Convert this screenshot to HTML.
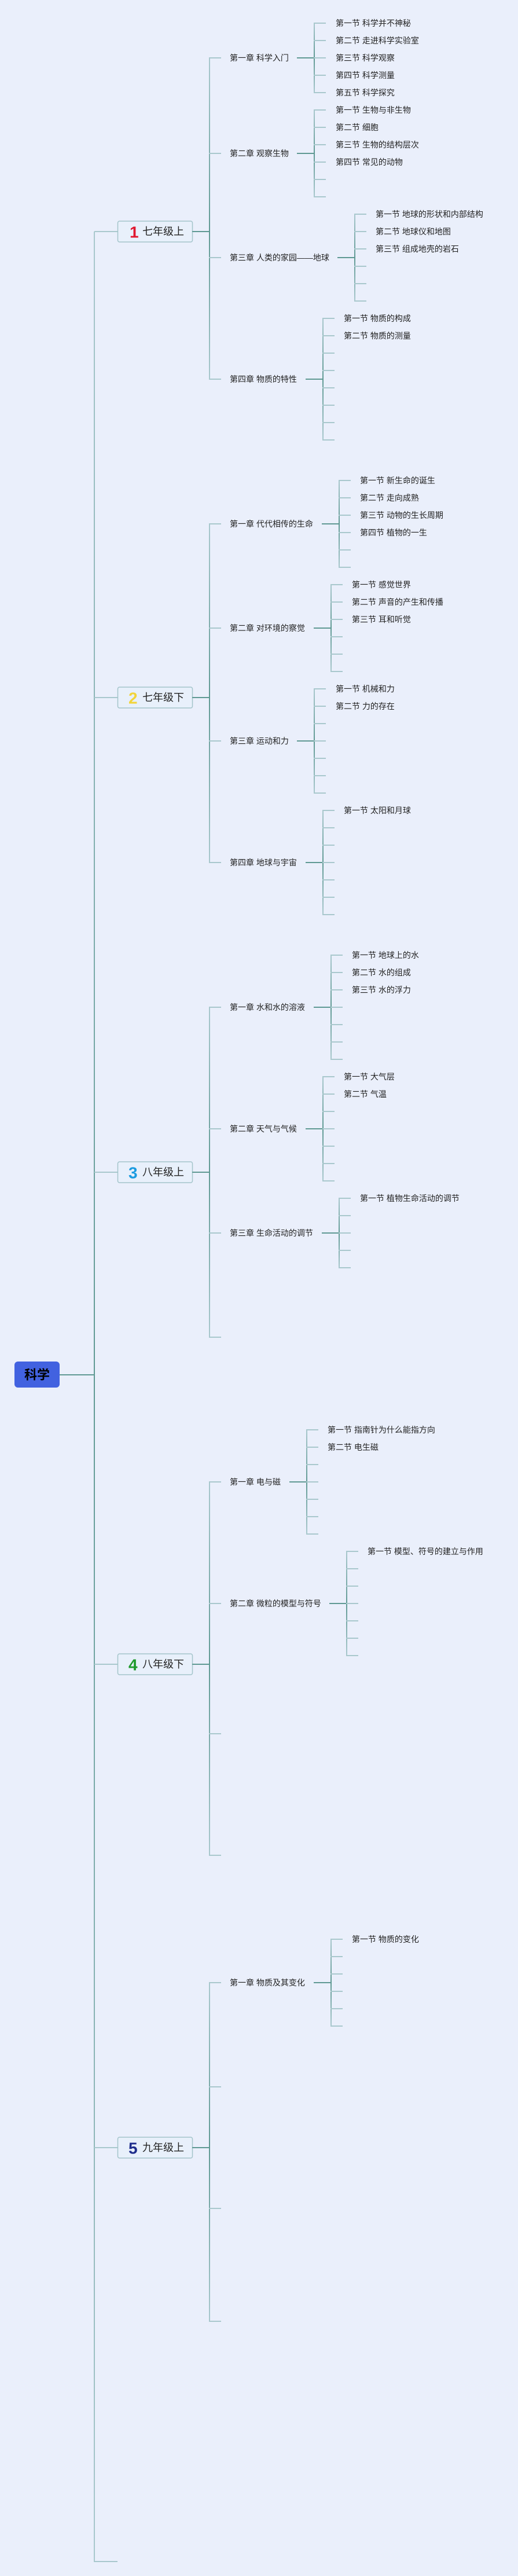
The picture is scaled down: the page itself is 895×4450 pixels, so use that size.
<!DOCTYPE html>
<html>
<head>
<meta charset="utf-8">
<style>
html,body{margin:0;padding:0;background:#eaeffb;}
svg{display:block;}
text{font-family:"Liberation Sans","Noto Sans CJK SC",sans-serif;}
.c{font-size:14px;fill:#222;}
.g{font-size:18px;fill:#222;}
.n{font-size:28px;font-weight:bold;}
</style>
</head>
<body>
<svg width="895" height="4450" viewBox="0 0 895 4450" xmlns="http://www.w3.org/2000/svg">
<defs>
<linearGradient id="gd" x1="0" y1="0" x2="0" y2="1"><stop offset="0" stop-color="#5f9993"/><stop offset="1" stop-color="#a9c8cd"/></linearGradient>
<linearGradient id="gu" x1="0" y1="0" x2="0" y2="1"><stop offset="0" stop-color="#a9c8cd"/><stop offset="1" stop-color="#5f9993"/></linearGradient>
</defs>
<rect x="0" y="0" width="895" height="4450" fill="#eaeffb"/>

<!-- Root -->
<rect x="25" y="2352" width="78" height="45" rx="6" fill="#4262e0"/>
<text x="64" y="2375" text-anchor="middle" dominant-baseline="central" style="font-size:22px;font-weight:bold;fill:#000;">科学</text>
<rect x="103" y="2374" width="60" height="2" fill="#5f9993"/>

<!-- Main vertical line -->
<rect x="162" y="400" width="2" height="1975" fill="url(#gu)"/>
<rect x="162" y="2375" width="2" height="2051" fill="url(#gd)"/>
<path d="M163 400h40M163 1205h40M163 2025h40M163 2875h40M163 3710h40M162 4425h41" stroke="#a9c8cd" stroke-width="2" fill="none"/>

<!-- Grade boxes -->
<g fill="#e8f0fb" stroke="#a3c4ca" stroke-width="1.5">
<rect x="203.5" y="382" width="129" height="36" rx="3"/>
<rect x="203.5" y="1187" width="129" height="36" rx="3"/>
<rect x="203.5" y="2007" width="129" height="36" rx="3"/>
<rect x="203.5" y="2857" width="129" height="36" rx="3"/>
<rect x="203.5" y="3692" width="129" height="36" rx="3"/>
</g>
<text class="n" x="224" y="401" dominant-baseline="central" fill="#e0162e">1</text>
<text class="g" x="246" y="400" dominant-baseline="central">七年级上</text>
<text class="n" x="222" y="1206" dominant-baseline="central" fill="#f2d43a">2</text>
<text class="g" x="246" y="1205" dominant-baseline="central">七年级下</text>
<text class="n" x="222" y="2026" dominant-baseline="central" fill="#1b9be0">3</text>
<text class="g" x="246" y="2025" dominant-baseline="central">八年级上</text>
<text class="n" x="222" y="2876" dominant-baseline="central" fill="#1f9a2c">4</text>
<text class="g" x="246" y="2875" dominant-baseline="central">八年级下</text>
<text class="n" x="222" y="3711" dominant-baseline="central" fill="#1e2d8c">5</text>
<text class="g" x="246" y="3710" dominant-baseline="central">九年级上</text>

<!-- Grade -> chapter connectors (dark) -->
<path d="M332 400h30M332 1205h30M332 2025h30M332 2875h30M332 3710h30" stroke="#5f9993" stroke-width="2" fill="none"/>

<!-- Chapter vertical lines -->
<rect x="361" y="100" width="2" height="300" fill="url(#gu)"/>
<rect x="361" y="400" width="2" height="255" fill="url(#gd)"/>
<rect x="361" y="905" width="2" height="300" fill="url(#gu)"/>
<rect x="361" y="1205" width="2" height="285" fill="url(#gd)"/>
<rect x="361" y="1740" width="2" height="285" fill="url(#gu)"/>
<rect x="361" y="2025" width="2" height="285" fill="url(#gd)"/>
<rect x="361" y="2560" width="2" height="315" fill="url(#gu)"/>
<rect x="361" y="2875" width="2" height="330" fill="url(#gd)"/>
<rect x="361" y="3425" width="2" height="285" fill="url(#gu)"/>
<rect x="361" y="3710" width="2" height="300" fill="url(#gd)"/>

<!-- Chapter stubs (light) -->
<path d="M361 100h21M361 265h21M361 445h21M361 655h21
M361 905h21M361 1085h21M361 1280h21M361 1490h21
M361 1740h21M361 1950h21M361 2130h21M361 2310h21
M361 2560h21M361 2770h21M361 2995h21M361 3205h21
M361 3425h21M361 3605h21M361 3815h21M361 4010h21" stroke="#a9c8cd" stroke-width="2" fill="none"/>

<!-- Chapter labels -->
<g class="c" dominant-baseline="central">
<text class="c" x="397" y="100" dominant-baseline="central">第一章 科学入门</text>
<text class="c" x="397" y="265" dominant-baseline="central">第二章 观察生物</text>
<text class="c" x="397" y="445" dominant-baseline="central">第三章 人类的家园——地球</text>
<text class="c" x="397" y="655" dominant-baseline="central">第四章 物质的特性</text>
<text class="c" x="397" y="905" dominant-baseline="central">第一章 代代相传的生命</text>
<text class="c" x="397" y="1085" dominant-baseline="central">第二章 对环境的察觉</text>
<text class="c" x="397" y="1280" dominant-baseline="central">第三章 运动和力</text>
<text class="c" x="397" y="1490" dominant-baseline="central">第四章 地球与宇宙</text>
<text class="c" x="397" y="1740" dominant-baseline="central">第一章 水和水的溶液</text>
<text class="c" x="397" y="1950" dominant-baseline="central">第二章 天气与气候</text>
<text class="c" x="397" y="2130" dominant-baseline="central">第三章 生命活动的调节</text>
<text class="c" x="397" y="2560" dominant-baseline="central">第一章 电与磁</text>
<text class="c" x="397" y="2770" dominant-baseline="central">第二章 微粒的模型与符号</text>
<text class="c" x="397" y="3425" dominant-baseline="central">第一章 物质及其变化</text>
</g>

<!-- Chapter -> section connectors (dark) -->
<path d="M513 100h30M513 265h30M583 445h30M528 655h30
M556 905h30M542 1085h30M513 1280h30M528 1490h30
M542 1740h30M528 1950h30M556 2130h30
M500 2560h30M569 2770h30
M542 3425h30" stroke="#5f9993" stroke-width="2" fill="none"/>

<!-- Section vertical lines -->
<rect x="542" y="40" width="2" height="60" fill="url(#gu)"/>
<rect x="542" y="100" width="2" height="60" fill="url(#gd)"/>
<rect x="542" y="190" width="2" height="75" fill="url(#gu)"/>
<rect x="542" y="265" width="2" height="75" fill="url(#gd)"/>
<rect x="612" y="370" width="2" height="75" fill="url(#gu)"/>
<rect x="612" y="445" width="2" height="75" fill="url(#gd)"/>
<rect x="557" y="550" width="2" height="105" fill="url(#gu)"/>
<rect x="557" y="655" width="2" height="105" fill="url(#gd)"/>

<rect x="585" y="830" width="2" height="75" fill="url(#gu)"/>
<rect x="585" y="905" width="2" height="75" fill="url(#gd)"/>
<rect x="571" y="1010" width="2" height="75" fill="url(#gu)"/>
<rect x="571" y="1085" width="2" height="75" fill="url(#gd)"/>
<rect x="542" y="1190" width="2" height="90" fill="url(#gu)"/>
<rect x="542" y="1280" width="2" height="90" fill="url(#gd)"/>
<rect x="557" y="1400" width="2" height="90" fill="url(#gu)"/>
<rect x="557" y="1490" width="2" height="90" fill="url(#gd)"/>

<rect x="571" y="1650" width="2" height="90" fill="url(#gu)"/>
<rect x="571" y="1740" width="2" height="90" fill="url(#gd)"/>
<rect x="557" y="1860" width="2" height="90" fill="url(#gu)"/>
<rect x="557" y="1950" width="2" height="90" fill="url(#gd)"/>
<rect x="585" y="2070" width="2" height="60" fill="url(#gu)"/>
<rect x="585" y="2130" width="2" height="60" fill="url(#gd)"/>

<rect x="529" y="2470" width="2" height="90" fill="url(#gu)"/>
<rect x="529" y="2560" width="2" height="90" fill="url(#gd)"/>
<rect x="598" y="2680" width="2" height="90" fill="url(#gu)"/>
<rect x="598" y="2770" width="2" height="90" fill="url(#gd)"/>

<rect x="571" y="3350" width="2" height="75" fill="url(#gu)"/>
<rect x="571" y="3425" width="2" height="75" fill="url(#gd)"/>

<!-- Section stubs (light) -->
<path stroke="#a9c8cd" stroke-width="2" fill="none" d="
M542 40h21M542 70h21M542 100h21M542 130h21M542 160h21
M542 190h21M542 220h21M542 250h21M542 280h21M542 310h21M542 340h21
M612 370h21M612 400h21M612 430h21M612 460h21M612 490h21M612 520h21
M557 550h21M557 580h21M557 610h21M557 640h21M557 670h21M557 700h21M557 730h21M557 760h21
M585 830h21M585 860h21M585 890h21M585 920h21M585 950h21M585 980h21
M571 1010h21M571 1040h21M571 1070h21M571 1100h21M571 1130h21M571 1160h21
M542 1190h21M542 1220h21M542 1250h21M542 1280h21M542 1310h21M542 1340h21M542 1370h21
M557 1400h21M557 1430h21M557 1460h21M557 1490h21M557 1520h21M557 1550h21M557 1580h21
M571 1650h21M571 1680h21M571 1710h21M571 1740h21M571 1770h21M571 1800h21M571 1830h21
M557 1860h21M557 1890h21M557 1920h21M557 1950h21M557 1980h21M557 2010h21M557 2040h21
M585 2070h21M585 2100h21M585 2130h21M585 2160h21M585 2190h21
M529 2470h21M529 2500h21M529 2530h21M529 2560h21M529 2590h21M529 2620h21M529 2650h21
M598 2680h21M598 2710h21M598 2740h21M598 2770h21M598 2800h21M598 2830h21M598 2860h21
M571 3350h21M571 3380h21M571 3410h21M571 3440h21M571 3470h21M571 3500h21"/>

<!-- Section labels -->
<text class="c" x="580" y="40" dominant-baseline="central">第一节 科学并不神秘</text>
<text class="c" x="580" y="70" dominant-baseline="central">第二节 走进科学实验室</text>
<text class="c" x="580" y="100" dominant-baseline="central">第三节 科学观察</text>
<text class="c" x="580" y="130" dominant-baseline="central">第四节 科学测量</text>
<text class="c" x="580" y="160" dominant-baseline="central">第五节 科学探究</text>

<text class="c" x="580" y="190" dominant-baseline="central">第一节 生物与非生物</text>
<text class="c" x="580" y="220" dominant-baseline="central">第二节 细胞</text>
<text class="c" x="580" y="250" dominant-baseline="central">第三节 生物的结构层次</text>
<text class="c" x="580" y="280" dominant-baseline="central">第四节 常见的动物</text>

<text class="c" x="649" y="370" dominant-baseline="central">第一节 地球的形状和内部结构</text>
<text class="c" x="649" y="400" dominant-baseline="central">第二节 地球仪和地图</text>
<text class="c" x="649" y="430" dominant-baseline="central">第三节 组成地壳的岩石</text>

<text class="c" x="594" y="550" dominant-baseline="central">第一节 物质的构成</text>
<text class="c" x="594" y="580" dominant-baseline="central">第二节 物质的测量</text>

<text class="c" x="622" y="830" dominant-baseline="central">第一节 新生命的诞生</text>
<text class="c" x="622" y="860" dominant-baseline="central">第二节 走向成熟</text>
<text class="c" x="622" y="890" dominant-baseline="central">第三节 动物的生长周期</text>
<text class="c" x="622" y="920" dominant-baseline="central">第四节 植物的一生</text>

<text class="c" x="608" y="1010" dominant-baseline="central">第一节 感觉世界</text>
<text class="c" x="608" y="1040" dominant-baseline="central">第二节 声音的产生和传播</text>
<text class="c" x="608" y="1070" dominant-baseline="central">第三节 耳和听觉</text>

<text class="c" x="580" y="1190" dominant-baseline="central">第一节 机械和力</text>
<text class="c" x="580" y="1220" dominant-baseline="central">第二节 力的存在</text>

<text class="c" x="594" y="1400" dominant-baseline="central">第一节 太阳和月球</text>

<text class="c" x="608" y="1650" dominant-baseline="central">第一节 地球上的水</text>
<text class="c" x="608" y="1680" dominant-baseline="central">第二节 水的组成</text>
<text class="c" x="608" y="1710" dominant-baseline="central">第三节 水的浮力</text>

<text class="c" x="594" y="1860" dominant-baseline="central">第一节 大气层</text>
<text class="c" x="594" y="1890" dominant-baseline="central">第二节 气温</text>

<text class="c" x="622" y="2070" dominant-baseline="central">第一节 植物生命活动的调节</text>

<text class="c" x="566" y="2470" dominant-baseline="central">第一节 指南针为什么能指方向</text>
<text class="c" x="566" y="2500" dominant-baseline="central">第二节 电生磁</text>

<text class="c" x="635" y="2680" dominant-baseline="central">第一节 模型、符号的建立与作用</text>

<text class="c" x="608" y="3350" dominant-baseline="central">第一节 物质的变化</text>
</svg>
</body>
</html>
